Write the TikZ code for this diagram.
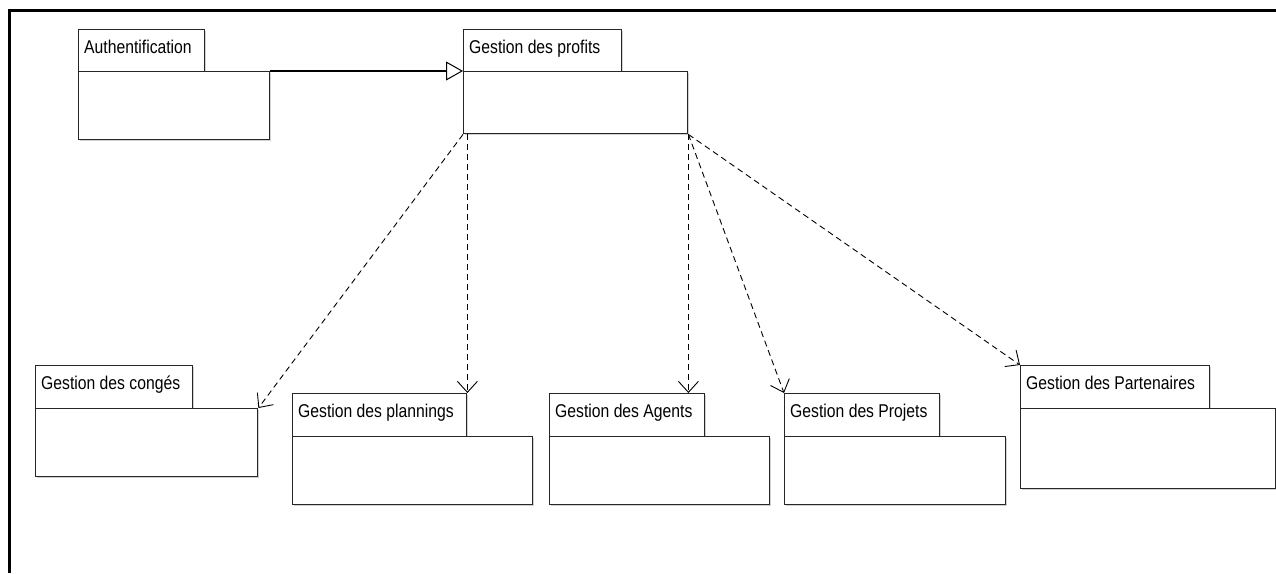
\documentclass[tikz,border=0pt]{standalone}
\usepackage{fontspec}
\newfontfamily\umlfont[FakeStretch=0.85]{Liberation Sans}
\usetikzlibrary{arrows.meta,calc}

\tikzset{
  pkgbox/.style={draw=black!85, line width=1.4pt, fill=white, rectangle,
    inner sep=0pt, anchor=north west},
  pkgshadow/.style={fill=black!18, draw=none},
  pkglabel/.style={anchor=base west, inner sep=0pt, font=\umlfont\fontsize{18.5}{20}\selectfont},
  depend/.style={draw=black, line width=0.9pt, dash pattern=on 6pt off 4pt,
    -{Straight Barb[length=11pt, width=20pt, line width=0.9pt]}},
  generalize/.style={draw=black, line width=1.2pt,
    -{Triangle[open, length=17pt, width=19pt, line width=1pt, fill=white]}},
  frameline/.style={draw=black, line width=3pt},
}

% \umlpkg{name}{x}{y}{tab w}{tab h}{body w}{body h}{title}
\newcommand\umlpkg[8]{%
  \fill[pkgshadow] (#2+2,#3+#5+2) rectangle (#2+#6+2,#3+#5+#7+2);
  \fill[pkgshadow] (#2+2,#3+2) rectangle (#2+#4+2,#3+#5);
  \node[pkgbox, minimum width=#4pt, minimum height=#5pt] (#1t) at (#2,#3) {};
  \node[pkgbox, minimum width=#6pt, minimum height=#7pt] (#1b) at (#2,#3+#5) {};
  \node[pkglabel] (#1l) at (#2+6,#3+24) {#8};
}

\begin{document}
\begin{tikzpicture}[x=1pt, y=-1pt]
  \useasboundingbox (0,0) rectangle (1276,573);

  % outer frame (top and left edges)
  \coordinate (fa) at (9,573);
  \coordinate (fb) at (9,10);
  \coordinate (fc) at (1276,10);
  \draw[frameline] (fa) -- (fb) -- (fc);

  % packages
  \umlpkg{auth}{78}{29}{126}{42}{191}{68}{Authentification}
  \umlpkg{prof}{463}{29}{158}{42}{224}{62}{Gestion des profits}
  \umlpkg{cong}{35}{365}{157}{43}{222}{68}{Gestion des congés}
  \umlpkg{plan}{292}{393}{174}{43}{240}{68}{Gestion des plannings}
  \umlpkg{agen}{549}{393}{155}{43}{220}{68}{Gestion des Agents}
  \umlpkg{proj}{784}{393}{155}{43}{221}{68}{Gestion des Projets}
  \umlpkg{part}{1020}{365}{189}{43}{255}{80}{Gestion des Partenaires}

  % generalization
  \draw[generalize] (authb.north east) -- (profb.north west);

  % dependencies
  \draw[depend] (profb.south west) -- (congb.north east);
  \draw[depend] (plant.north east |- profb.south) -- (plant.north east);
  \draw[depend] (profb.south east) -- (profb.south east |- agent.north);
  \draw[depend] (profb.south east) -- (projt.north west);
  \draw[depend] (profb.south east) -- (partt.north west);
\end{tikzpicture}
\end{document}
